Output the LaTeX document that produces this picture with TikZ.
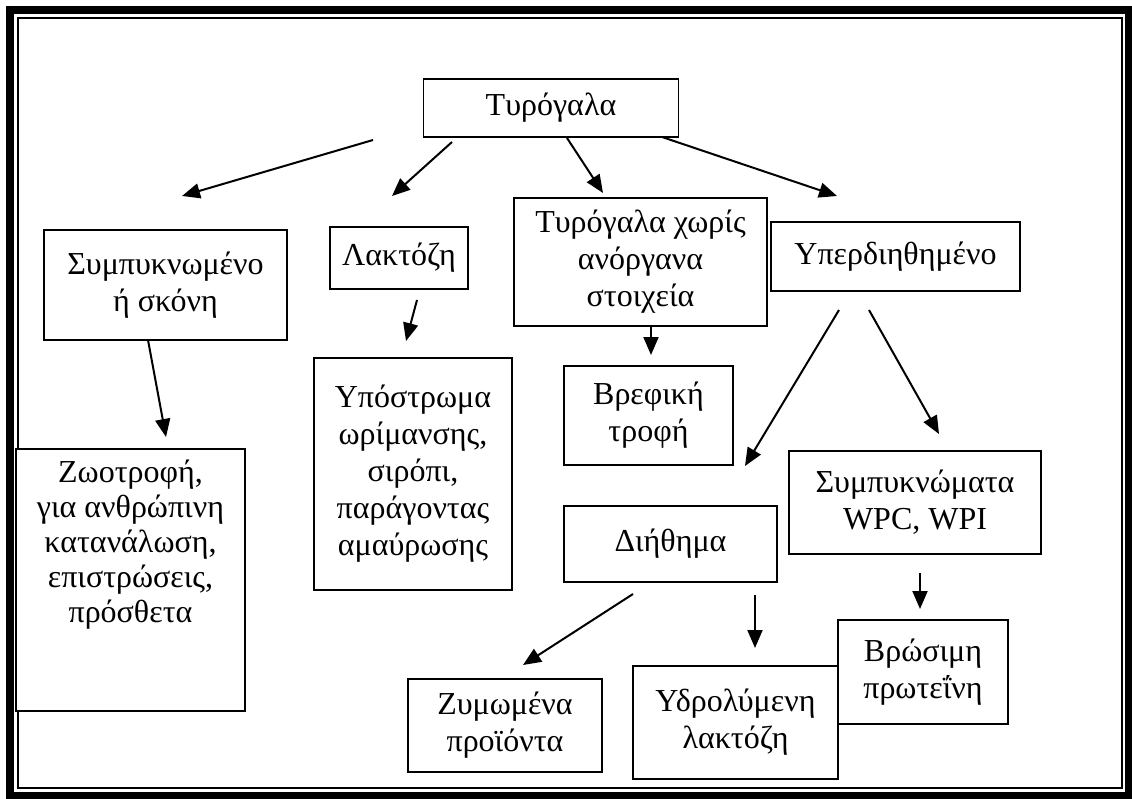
\documentclass[tikz,border=0pt]{standalone}
\usepackage{fontspec}
\setmainfont{Liberation Serif}
\usetikzlibrary{arrows.meta}
\begin{document}
\begin{tikzpicture}[x=1pt,y=-1pt,
  box/.style={draw, line width=1.6pt, fill=white, align=center, inner sep=0pt,
              font=\fontsize{32}{37}\selectfont},
  arr/.style={line width=2pt, -{Triangle[length=18pt,width=15pt]}}]
\useasboundingbox (0,0) rectangle (1132,798);
% frame
\draw[line width=7.5pt] (10,10) rectangle (1128.5,795.5);
\draw[line width=2pt] (18,18) rectangle (1121.5,788);
% boxes
\node[box, minimum width=255pt, minimum height=58pt] (tyr) at (551,108) {Τυρόγαλα};
\node[box, minimum width=243pt, minimum height=110pt] (symp) at (165.5,285) {Συμπυκνωμένο\\ή σκόνη};
\node[box, minimum width=138pt, minimum height=62pt] (lakt) at (399,258) {Λακτόζη};
\node[box, minimum width=253pt, minimum height=128pt] (xor) at (640.5,262) {Τυρόγαλα χωρίς\\ανόργανα\\στοιχεία};
\node[box, minimum width=249pt, minimum height=69pt] (yper) at (895.5,256.5) {Υπερδιηθημένο};
\node[box, anchor=north, font=\fontsize{32}{35}\selectfont] (zoo) at (130.5,448)
  {\parbox[c][262pt][t]{229pt}{\centering\vspace*{9pt}\strut Ζωοτροφή,\\για ανθρώπινη\\κατανάλωση,\\επιστρώσεις,\\πρόσθετα}};
\node[box, minimum width=198pt, minimum height=232pt] (ypo) at (413,474) {Υπόστρωμα\\ωρίμανσης,\\σιρόπι,\\παράγοντας\\αμαύρωσης};
\node[box, minimum width=169pt, minimum height=99pt] (vref) at (648.5,415.5) {Βρεφική\\τροφή};
\node[box, minimum width=213pt, minimum height=76pt] (dith) at (670.5,544) {Διήθημα};
\node[box, minimum width=252pt, minimum height=103pt] (wpc) at (915,502.5) {Συμπυκνώματα\\WPC, WPI};
\node[box, minimum width=194pt, minimum height=93pt] (zym) at (505,725.5) {Ζυμωμένα\\προϊόντα};
\node[box, minimum width=205pt, minimum height=113pt] (ydro) at (735.5,722.5) {Υδρολύμενη\\λακτόζη};
\node[box, minimum width=170pt, minimum height=104pt] (vros) at (923,672) {Βρώσιμη\\πρωτεΐνη};
% connector end points
\coordinate (a1s) at (373,140); \coordinate (a1e) at (182,196);
\coordinate (a2s) at (452,142); \coordinate (a2e) at (392,196);
\coordinate (a3s) at (567,138); \coordinate (a3e) at (603,193);
\coordinate (a4s) at (662,137); \coordinate (a4e) at (837,196);
\coordinate (a5s) at (148,340); \coordinate (a5e) at (166,437);
\coordinate (a6s) at (417,300); \coordinate (a6e) at (406,341);
\coordinate (a7s) at (651,327); \coordinate (a7e) at (651,355);
\coordinate (a8s) at (839,310); \coordinate (a8e) at (745,466);
\coordinate (a9s) at (869,310); \coordinate (a9e) at (939,434);
\coordinate (a10s) at (633,594); \coordinate (a10e) at (523,665);
\coordinate (a11s) at (755,595); \coordinate (a11e) at (755,648);
\coordinate (a12s) at (920,573); \coordinate (a12e) at (920,609);
\foreach \i in {1,...,12} \draw[arr] (a\i s) -- (a\i e);
\end{tikzpicture}
\end{document}
